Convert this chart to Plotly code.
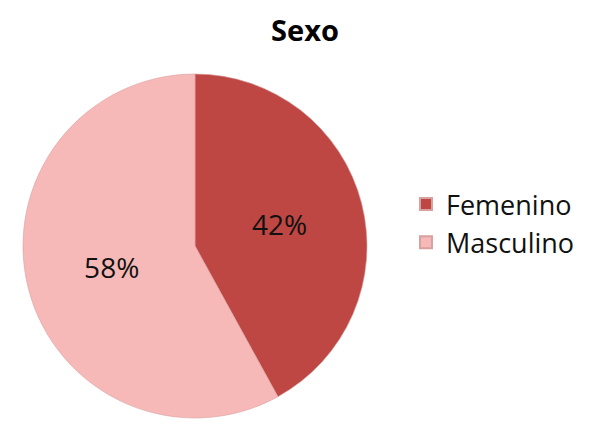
import plotly.graph_objects as go

labels = ["Femenino", "Masculino"]
values = [42, 58]
colors = ["#BE4744", "#F6B9B8"]

fig = go.Figure(go.Pie(
    labels=labels, values=values, sort=False, direction="clockwise", rotation=0,
    marker=dict(colors=colors, line=dict(color="#D9A0A0", width=0.6)),
    textinfo="percent", textposition="inside", insidetextorientation="horizontal",
    texttemplate="%{percent:.0%}",
    textfont=dict(size=28, color="#111111", family="Open Sans, sans-serif"),
    domain=dict(x=[15/600, 359/600], y=[25/435, 369/435]),
    hoverinfo="label+percent",
))
fig.update_layout(
    width=600, height=435, margin=dict(l=0, r=0, t=0, b=0),
    paper_bgcolor="white", plot_bgcolor="white",
    title=dict(text="<b>Sexo</b>", x=297/600, xanchor="center", y=1-23/435, yanchor="middle",
               font=dict(size=29, color="#000000", family="Open Sans, sans-serif")),
    legend=dict(x=398/600, y=1-172/435, xanchor="left", yanchor="top",
                font=dict(size=27, color="#111111", family="Open Sans, sans-serif"),
                itemsizing="constant", tracegroupgap=0),
)
fig.write_html("out.html")
